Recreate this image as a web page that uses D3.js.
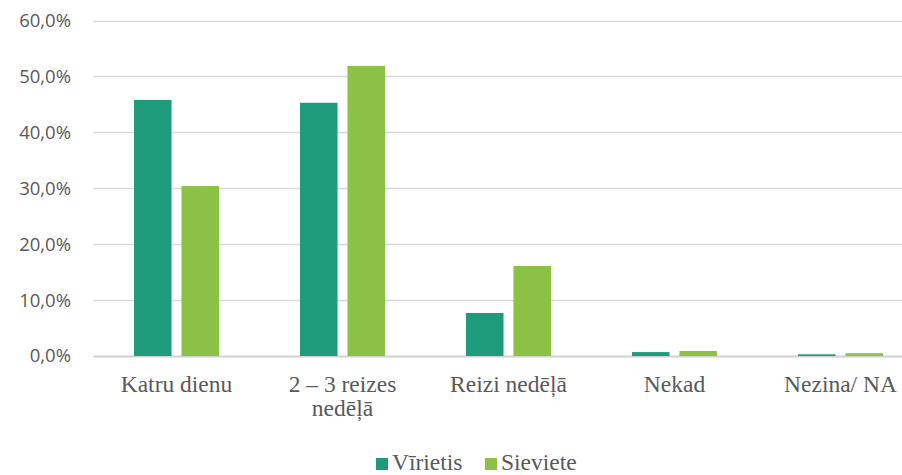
<!DOCTYPE html>
<html>
	<head>
		<meta charset="utf-8">
		<style>
			body, html { margin: 0; padding: 0; background: #fff; }
			.tick text { fill: #595959; }
		</style>
	</head>
	<body>
		<svg id="svg" width="902" height="475"></svg>
		<script src="https://d3js.org/d3.v7.min.js"></script>
		<script>
			// Chart data
			const categories = ['Katru dienu', '2 – 3 reizes nedēļā', 'Reizi nedēļā', 'Nekad', 'Nezina/ NA']
			const seriesNames = ['Vīrietis', 'Sieviete']
			const male = [45.8, 45.3, 7.7, 0.7, 0.3]
			const female = [30.4, 51.9, 16.1, 0.9, 0.5]
			const yTicks = [0, 10, 20, 30, 40, 50, 60]
			const colors = ['#1e9b7a', '#8bc145']

			const rows = categories.map((c, i) => ({ name: c, values: [male[i], female[i]] }))

			const svg = d3.select('#svg')

			// plot area runs a bit past the right edge, as in the original picture
			const plotLeft = 93.5, plotRight = 923.5, plotTop = 20.6, plotBottom = 356

			const x0 = d3.scaleBand()
				.domain(categories)
				.range([plotLeft, plotRight])
				.paddingInner(0.488)
				.paddingOuter(0.244)

			const x1 = d3.scaleBand()
				.domain(seriesNames)
				.range([0, x0.bandwidth()])
				.paddingInner(0.21)

			const y = d3.scaleLinear()
				.domain([0, 60])
				.range([plotBottom, plotTop])

			// gridlines
			svg.append('g')
				.selectAll('line')
				.data(yTicks)
				.enter().append('line')
				.attr('x1', plotLeft)
				.attr('x2', 902)
				.attr('y1', d => Math.round(y(d)) + 0.5)
				.attr('y2', d => Math.round(y(d)) + 0.5)
				.style('stroke', d => d === 0 ? '#d0d0d0' : '#d9d9d9')
				.style('stroke-width', d => d === 0 ? 2 : 1.3)

			// y axis labels
			const yAxis = d3.axisLeft(y)
				.tickValues(yTicks)
				.tickSize(0)
				.tickPadding(0)
				.tickFormat(d => d.toFixed(1).replace('.', ',') + '%')

			svg.append('g')
				.attr('transform', 'translate(71,0)')
				.call(yAxis)
				.call(g => g.select('.domain').remove())
				.selectAll('text')
				.style('font-family', '"Open Sans", sans-serif')
				.style('font-size', '18.5px')

			// bars
			const group = svg.append('g')
				.selectAll('g')
				.data(rows)
				.enter().append('g')
				.attr('transform', d => `translate(${x0(d.name)},0)`)

			group.selectAll('rect')
				.data(d => d.values.map((v, i) => ({ key: seriesNames[i], value: v, i })))
				.enter().append('rect')
				.attr('x', d => x1(d.key))
				.attr('width', x1.bandwidth())
				.attr('y', d => y(d.value))
				.attr('height', d => plotBottom - y(d.value))
				.style('fill', d => colors[d.i])

			// x axis labels, wrapped
			const xAxis = d3.axisBottom(x0)
				.tickSize(0)
				.tickPadding(0)

			svg.append('g')
				.attr('transform', `translate(0,${plotBottom})`)
				.call(xAxis)
				.call(g => g.select('.domain').remove())
				.selectAll('text')
				.style('font-family', '"Liberation Serif", "Times New Roman", serif')
				.style('font-size', '23.5px')
				.attr('y', 0)
				.attr('dy', null)
				.each(function(d) {
					const t = d3.select(this)
					const words = d.split(' ')
					let lines = [], line = []
					t.text(null)
					const probe = t.append('tspan')
					words.forEach(w => {
						line.push(w)
						probe.text(line.join(' '))
						if (probe.node().getComputedTextLength() > 150 && line.length > 1) {
							line.pop()
							lines.push(line.join(' '))
							line = [w]
						}
					})
					lines.push(line.join(' '))
					probe.remove()
					lines.forEach((l, i) => {
						t.append('tspan')
							.attr('x', 0)
							.attr('y', 36 + i * 24)
							.text(l)
					})
				})

			// legend
			const legend = svg.append('g')
				.attr('transform', 'translate(376,458)')

			const items = legend.selectAll('g')
				.data(seriesNames)
				.enter().append('g')
				.attr('transform', (d, i) => `translate(${i * 109},0)`)

			items.append('rect')
				.attr('width', 12)
				.attr('height', 12)
				.style('fill', (d, i) => colors[i])

			items.append('text')
				.attr('x', 16)
				.attr('y', 12)
				.style('font-family', '"Liberation Serif", "Times New Roman", serif')
				.style('font-size', '23.5px')
				.style('fill', '#595959')
				.text(d => d)
		</script>
	</body>
</html>
